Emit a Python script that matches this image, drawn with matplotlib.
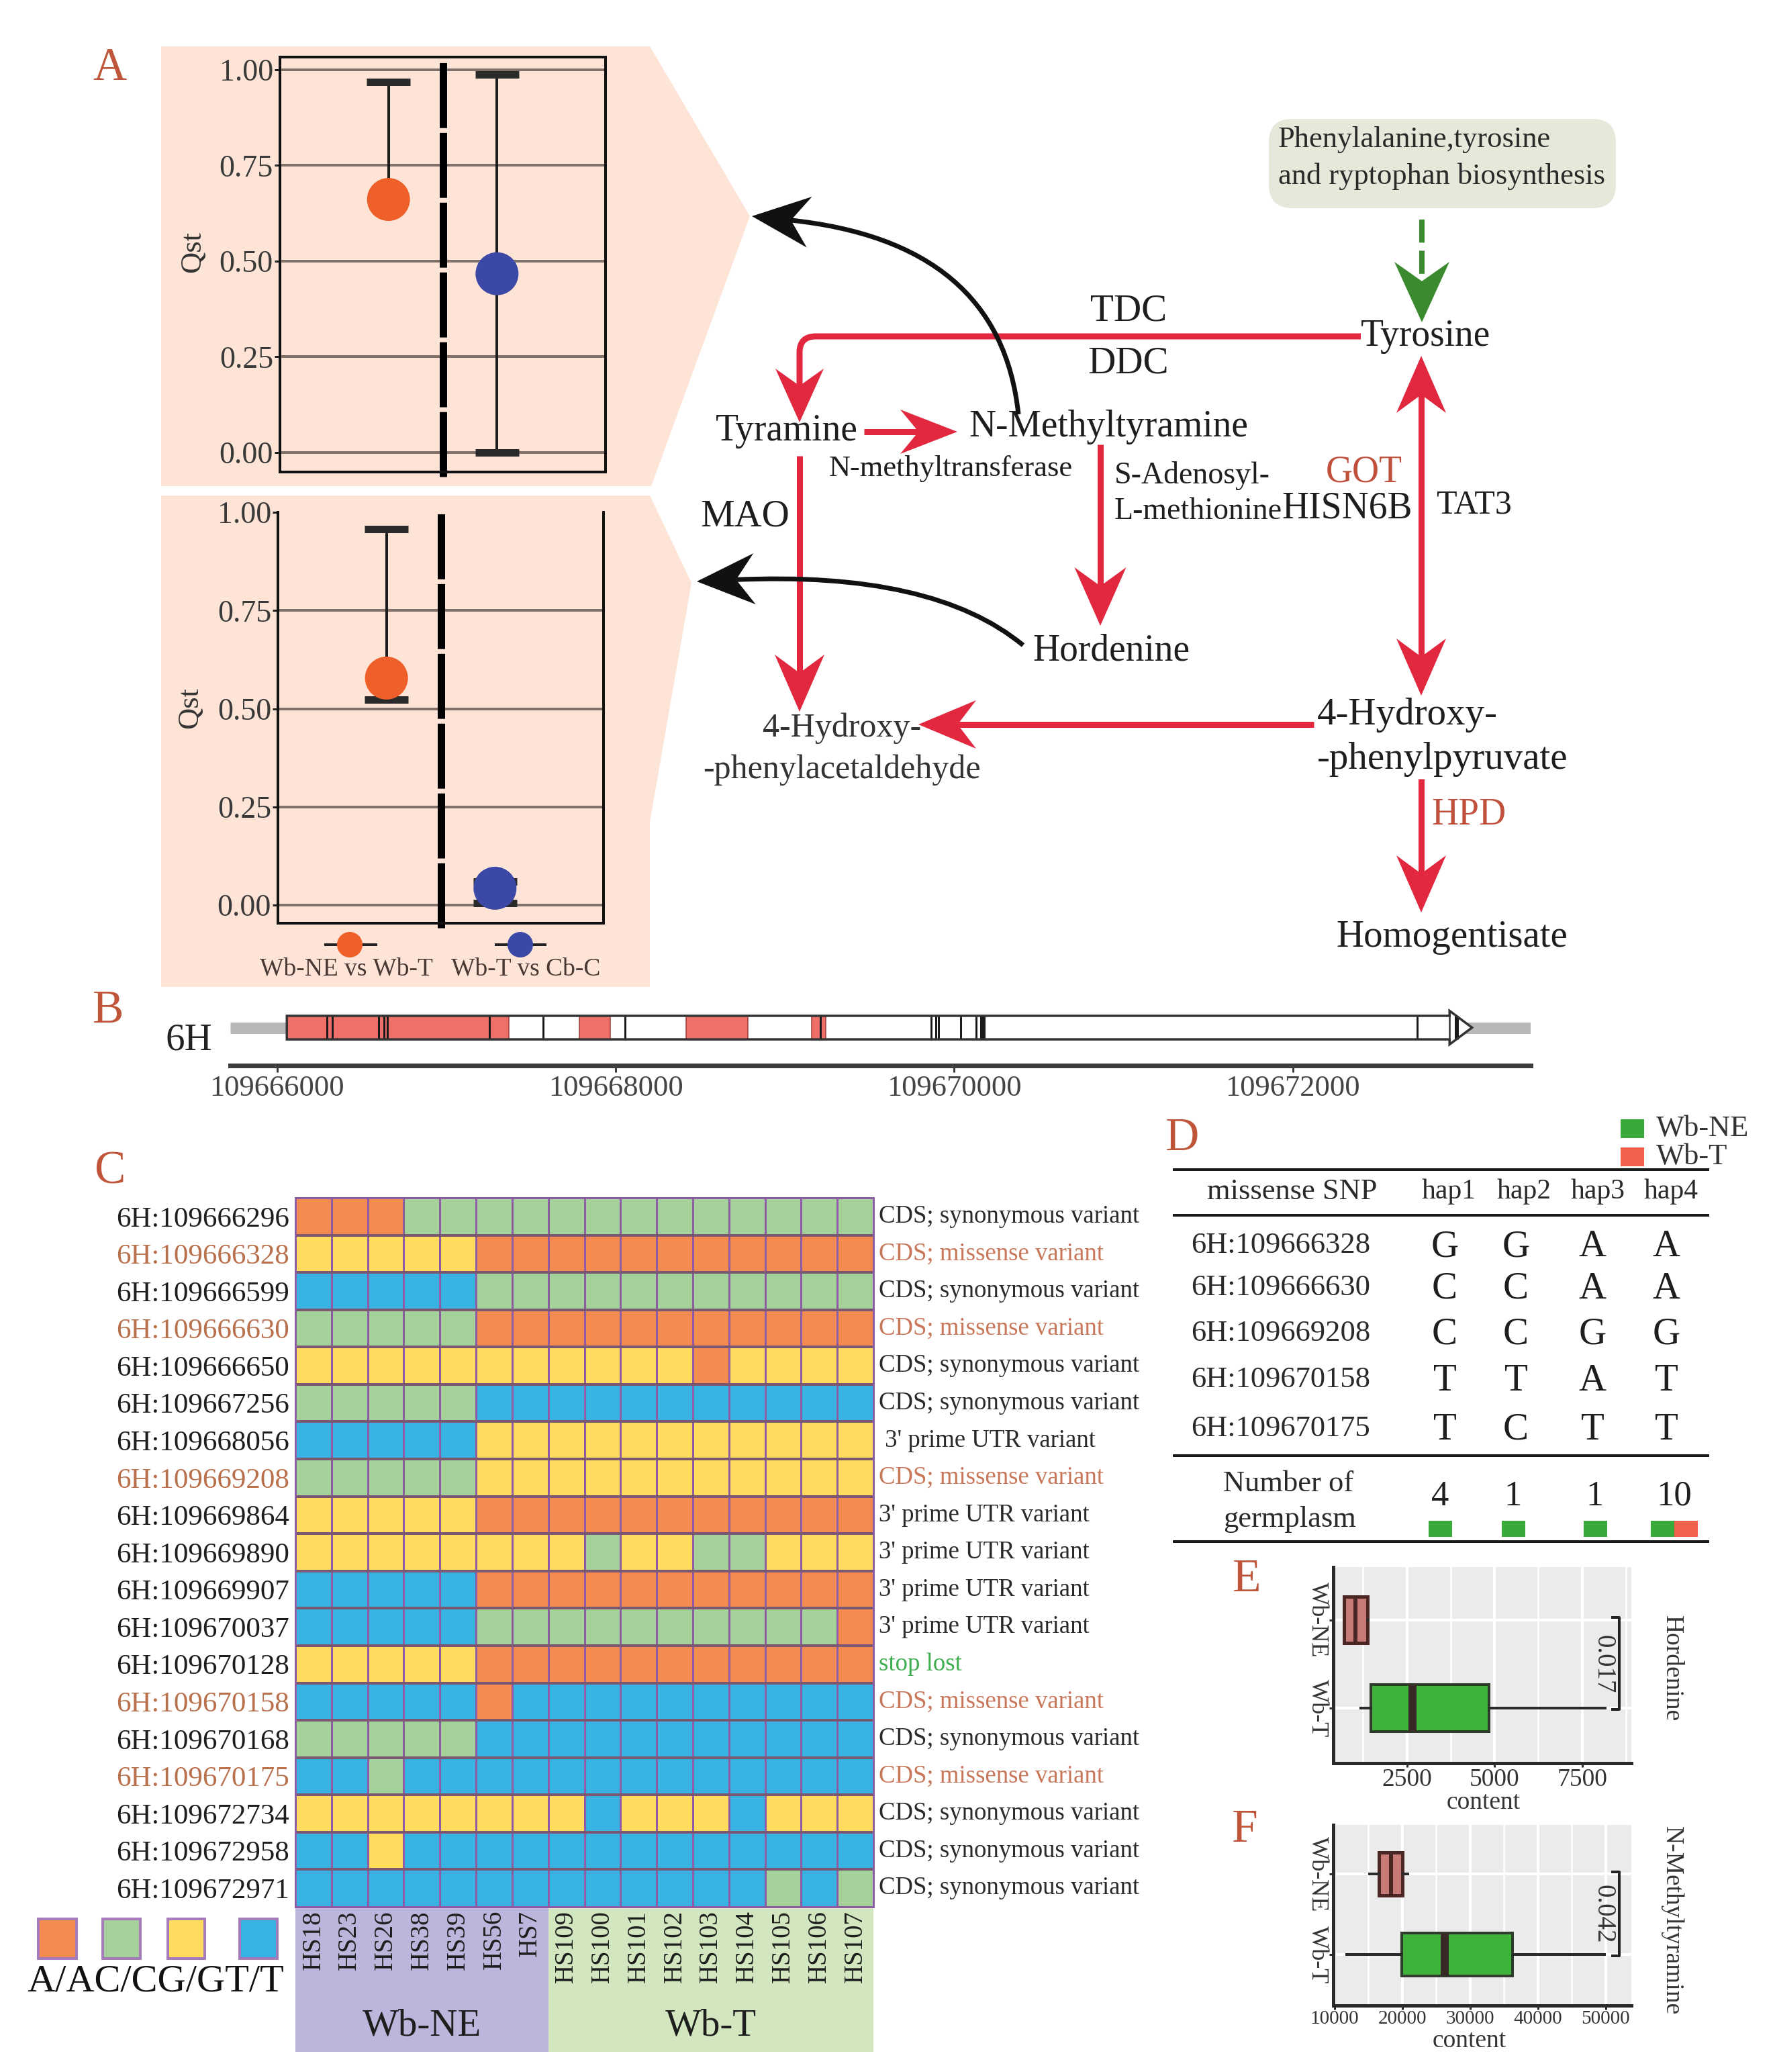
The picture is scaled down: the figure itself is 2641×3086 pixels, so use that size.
import numpy as np
import matplotlib
matplotlib.use('Agg')
import matplotlib.pyplot as plt
from matplotlib.patches import Polygon, Rectangle, FancyBboxPatch, PathPatch
from matplotlib.path import Path
from matplotlib.colors import ListedColormap

plt.rcParams['font.family'] = ['Liberation Serif', 'DejaVu Serif']

W, H = 2641, 3086
DPI = 100


def pt(px):
    return px * 72.0 / DPI

# ------------------------------------------------------------------ data
qst_groups = ['Wb-NE vs Wb-T', 'Wb-T vs Cb-C']
qst_ticks = [0.00, 0.25, 0.50, 0.75, 1.00]
qst_nmt_point = [0.661, 0.467]
qst_nmt_low = [0.661, 0.000]
qst_nmt_high = [0.968, 0.988]
qst_hor_point = [0.578, 0.043]
qst_hor_low = [0.523, 0.005]
qst_hor_high = [0.957, 0.060]

track_start, track_end = 109665724, 109673404
gene_start, gene_end, gene_tip = 109666058, 109672925, 109673058
exons = [(109666058, 109667371), (109667786, 109667967),
         (109668418, 109668780), (109669157, 109669242)]
extra_marks = [109667573]
track_ticks = [109666000, 109668000, 109670000, 109672000]

snp_ids = ['6H:109666296', '6H:109666328', '6H:109666599', '6H:109666630',
           '6H:109666650', '6H:109667256', '6H:109668056', '6H:109669208',
           '6H:109669864', '6H:109669890', '6H:109669907', '6H:109670037',
           '6H:109670128', '6H:109670158', '6H:109670168', '6H:109670175',
           '6H:109672734', '6H:109672958', '6H:109672971']
snp_effects = ['CDS; synonymous variant', 'CDS; missense variant',
               'CDS; synonymous variant', 'CDS; missense variant',
               'CDS; synonymous variant', 'CDS; synonymous variant',
               " 3' prime UTR variant", 'CDS; missense variant',
               "3' prime UTR variant", "3' prime UTR variant",
               "3' prime UTR variant", "3' prime UTR variant",
               'stop lost', 'CDS; missense variant',
               'CDS; synonymous variant', 'CDS; missense variant',
               'CDS; synonymous variant', 'CDS; synonymous variant',
               'CDS; synonymous variant']
samples = ['HS18', 'HS23', 'HS26', 'HS38', 'HS39', 'HS56', 'HS7', 'HS109',
           'HS100', 'HS101', 'HS102', 'HS103', 'HS104', 'HS105', 'HS106', 'HS107']
genotypes = ['AAACCCCCCCCCCCCC',
             'GGGGGAAAAAAAAAAA',
             'TTTTTCCCCCCCCCCC',
             'CCCCCAAAAAAAAAAA',
             'GGGGGGGGGGGAGGGG',
             'CCCCCTTTTTTTTTTT',
             'TTTTTGGGGGGGGGGG',
             'CCCCCGGGGGGGGGGG',
             'GGGGGAAAAAAAAAAA',
             'GGGGGGGGCGGCCGGG',
             'TTTTTAAAAAAAAAAA',
             'TTTTTCCCCCCCCCCA',
             'GGGGGAAAAAAAAAAA',
             'TTTTTATTTTTTTTTT',
             'CCCCCTTTTTTTTTTT',
             'TTCTTTTTTTTTTTTT',
             'GGGGGGGGTGGGTGGG',
             'TTGTTTTTTTTTTTTT',
             'TTTTTTTTTTTTTCTC']
allele_order = ['A', 'C', 'G', 'T']
allele_labels = ['A/A', 'C/C', 'G/G', 'T/T']
allele_colors = ['#f38b50', '#a5d29b', '#ffdc5e', '#38b2e3']
group_names = ['Wb-NE', 'Wb-T']
group_sizes = [7, 9]

hap_snps = ['6H:109666328', '6H:109666630', '6H:109669208', '6H:109670158', '6H:109670175']
hap_names = ['hap1', 'hap2', 'hap3', 'hap4']
hap_alleles = [['G', 'C', 'C', 'T', 'T'],
               ['G', 'C', 'C', 'T', 'C'],
               ['A', 'A', 'G', 'A', 'T'],
               ['A', 'A', 'G', 'T', 'T']]
hap_counts = [4, 1, 1, 10]
hap_groups = [['Wb-NE'], ['Wb-NE'], ['Wb-NE'], ['Wb-NE', 'Wb-T']]

box_groups = ['Wb-NE', 'Wb-T']
hord_whislo = [700, 1187]
hord_q1 = [708, 1474]
hord_med = [1034, 2662]
hord_q3 = [1379, 4845]
hord_whishi = [1390, 8158]
hord_p = '0.017'
nmt_whislo = [15150, 11800]
nmt_q1 = [16530, 19900]
nmt_med = [18320, 26240]
nmt_q3 = [20000, 36240]
nmt_whishi = [20800, 49800]
nmt_p = '0.042'

# ------------------------------------------------------------------ figure
fig = plt.figure(figsize=(W / DPI, H / DPI), dpi=DPI)
fig.patch.set_facecolor('white')
canvas = fig.add_axes([0, 0, 1, 1])
canvas.set_xlim(0, W)
canvas.set_ylim(H, 0)
canvas.axis('off')
canvas.set_zorder(0)


def px_axes(x0, y0, x1, y1):
    ax = fig.add_axes([x0 / W, 1 - y1 / H, (x1 - x0) / W, (y1 - y0) / H])
    ax.set_zorder(2)
    return ax


def T(x, y, s, size, color='#1e1e1e', ha='center', va='center', **kw):
    canvas.text(x, y, s, fontsize=size, color=color, ha=ha, va=va, **kw)


LETTER = '#c0553a'
RED = '#e1283f'
ORANGE = '#ef5f2a'
BLUE = '#3b48a6'
PINK = '#fde4d6'

# ------------------------------------------------------------------ panel A backgrounds
canvas.add_patch(Polygon([(240, 69), (968, 69), (1117, 322), (970, 724), (240, 724)],
                         closed=True, fc=PINK, ec='none', zorder=0))
canvas.add_patch(Polygon([(240, 738), (968, 738), (1030, 868), (968, 1224), (968, 1470), (240, 1470)],
                         closed=True, fc=PINK, ec='none', zorder=0))


def qst_axes(rect, point, low, high, ylim, grid_vals, top_spine):
    ax = px_axes(*rect)
    ax.set_facecolor('none')
    ax.set_xlim(0, 3)
    ax.set_ylim(*ylim)
    for g in grid_vals:
        ax.axhline(g, color='#80716b', lw=pt(4), zorder=1)
    span = ylim[1] - ylim[0]
    ax.plot([1.5, 1.5], [ylim[0] - 0.012 * span, ylim[1]], color='black', lw=pt(11),
            dashes=(8.8, 0.65), solid_capstyle='butt', clip_on=False, zorder=2)
    xs = np.arange(1, len(point) + 1)
    for x, p, lo, hi, c in zip(xs, point, low, high, [ORANGE, BLUE]):
        ax.plot([x, x], [lo, hi], color='#1c1c1c', lw=pt(4), zorder=3)
        ax.plot([x - 0.2, x + 0.2], [hi, hi], color='#2a2a2a', lw=pt(11),
                solid_capstyle='butt', zorder=3)
        if lo < p:
            ax.plot([x - 0.2, x + 0.2], [lo, lo], color='#2a2a2a', lw=pt(11),
                    solid_capstyle='butt', zorder=3)
        ax.scatter([x], [p], s=pt(64) ** 2, color=c, zorder=4, edgecolors='none', clip_on=False)
    ax.set_yticks(qst_ticks)
    ax.set_yticklabels([f'{v:.2f}' for v in qst_ticks], fontsize=33, color='#3a3a3a')
    ax.set_xticks([])
    ax.tick_params(axis='y', length=pt(8), width=pt(3), pad=pt(2), color='#222')
    for s in ax.spines.values():
        s.set_linewidth(pt(4))
        s.set_color('#111111')
    if not top_spine:
        ax.spines['top'].set_visible(False)
    return ax


qst_axes((417, 85, 902, 703), qst_nmt_point, qst_nmt_low, qst_nmt_high,
         (-0.051, 1.033), qst_ticks, True)
qst_axes((414, 763, 899, 1375), qst_hor_point, qst_hor_low, qst_hor_high,
         (-0.046, 1.0), qst_ticks[:-1], False)

T(287, 375, 'Qst', 32, '#333', rotation=90)
T(283, 1054, 'Qst', 32, '#333', rotation=90)
# legend of A
for (lx0, lx1, mx), c, lab, tx in zip([(485, 560, 521), (739, 812, 775)], [ORANGE, BLUE],
                                      qst_groups, [516, 783]):
    canvas.plot([lx0, lx1], [1407, 1407], color='#222', lw=pt(4), zorder=3)
    canvas.scatter([mx], [1407], s=pt(38) ** 2, color=c, zorder=4, edgecolors='none')
    T(tx, 1443, lab, 27, '#4a3a35')

# ------------------------------------------------------------------ pathway
def arrow_head(tip, d, L=85, Wd=74, color=RED, notch=0.32):
    d = np.asarray(d, float)
    d = d / np.hypot(*d)
    n = np.array([-d[1], d[0]])
    tip = np.asarray(tip, float)
    base = tip - d * L
    pn = tip - d * L * (1 - notch)
    canvas.add_patch(Polygon([tip, base + n * Wd / 2, pn, base - n * Wd / 2],
                             closed=True, fc=color, ec='none', zorder=5))
    return pn + d * 3


def straight_arrow(p0, tip, color=RED, lw=9, L=85, Wd=74, double=False, dashes=None):
    p0 = np.asarray(p0, float)
    tip = np.asarray(tip, float)
    d = tip - p0
    end = arrow_head(tip, d, L, Wd, color)
    start = arrow_head(p0, -d, L, Wd, color) if double else p0
    kw = dict(color=color, lw=pt(lw), solid_capstyle='butt', zorder=4)
    if dashes:
        kw['dashes'] = dashes
    canvas.plot([start[0], end[0]], [start[1], end[1]], **kw)


def curved_arrow(p0, c, p2, color='#111111', lw=7, L=86, Wd=76):
    p0, c, p2 = [np.asarray(v, float) for v in (p0, c, p2)]
    pn = arrow_head(p2, p2 - c, L, Wd, color)
    path = Path([p0, c, pn], [Path.MOVETO, Path.CURVE3, Path.CURVE3])
    canvas.add_patch(PathPatch(path, fc='none', ec=color, lw=pt(lw), zorder=4))


canvas.add_patch(FancyBboxPatch((1890, 177), 517, 133,
                                boxstyle='round,pad=0,rounding_size=35',
                                fc='#e5e9da', ec='none', zorder=1))
T(1904, 208, 'Phenylalanine,tyrosine', 32, '#2a2a2a', ha='left')
T(1904, 263, 'and ryptophan biosynthesis', 32, '#2a2a2a', ha='left')
straight_arrow((2118, 327), (2118, 480), color='#3c8a30', lw=8, L=90, Wd=82, dashes=(4.3, 1.5))

# Tyrosine -> Tyramine with rounded corner
pn = arrow_head((1191, 629), (0, 1), 80, 72)
path = Path([(2027, 501), (1215, 501), (1191, 501), (1191, 525), (1191, pn[1])],
            [Path.MOVETO, Path.LINETO, Path.CURVE3, Path.CURVE3, Path.LINETO])
canvas.add_patch(PathPatch(path, fc='none', ec=RED, lw=pt(9), zorder=4))

straight_arrow((1287, 643), (1426, 643), L=85, Wd=66)
straight_arrow((1639, 662), (1639, 932), L=87, Wd=77)
straight_arrow((1191, 679), (1191, 1060), L=85, Wd=74)
straight_arrow((2117, 530), (2117, 1036), double=True, L=85, Wd=74)
straight_arrow((1957, 1079), (1368, 1079), L=86, Wd=72)
straight_arrow((2117, 1160), (2117, 1359), L=85, Wd=74)

curved_arrow((1517, 617), (1490, 360), (1120, 322))
curved_arrow((1524, 961), (1390, 850), (1038, 866))

GOTC = '#c0503c'
T(2124, 501, 'Tyrosine', 40)
T(1681, 463, 'TDC', 41)
T(1681, 542, 'DDC', 41)
T(1172, 642, 'Tyramine', 40)
T(1651, 636, 'N-Methyltyramine', 40)
T(1416, 698, 'N-methyltransferase', 32)
T(1660, 708, 'S-Adenosyl-', 33, ha='left')
T(1660, 762, 'L-methionine', 33, ha='left')
T(2007, 758, 'HISN6B', 40)
T(2032, 704, 'GOT', 40, GOTC)
T(2196, 752, 'TAT3', 36)
T(1110, 770, 'MAO', 41)
T(1655, 969, 'Hordenine', 40)
T(1254, 1085, '4-Hydroxy-', 36, '#333')
T(1254, 1147, '-phenylacetaldehyde', 36, '#333')
T(1962, 1065, '4-Hydroxy-', 41, ha='left')
T(1962, 1131, '-phenylpyruvate', 41, ha='left')
T(2188, 1214, 'HPD', 40, GOTC)
T(2163, 1396, 'Homogentisate', 41)

# ------------------------------------------------------------------ panel B gene track
axb = px_axes(343, 1480, 2280, 1587)
axb.set_facecolor('none')
axb.set_xlim(track_start, track_end)
axb.set_ylim(0, 1)
yb, yt, ym = 0.364, 0.692, 0.528
axb.plot([track_start, track_end], [ym, ym], color='#b8b8b8', lw=pt(17),
         solid_capstyle='butt', zorder=1)
gene_poly = [(gene_start, yb), (gene_end, yb), (gene_end, yb - 0.07), (gene_tip, ym),
             (gene_end, yt + 0.07), (gene_end, yt), (gene_start, yt)]
axb.add_patch(Polygon(gene_poly, closed=True, fc='white', ec='none', zorder=2))
for s, e in exons:
    axb.add_patch(Rectangle((s, yb), e - s, yt - yb, fc='#ef6f69', ec='#9a3a36',
                            lw=pt(1.5), zorder=3))
snp_pos = [int(s.split(':')[1]) for s in snp_ids]
axb.vlines(snp_pos + extra_marks, yb, yt, color='#1a1a1a', lw=pt(3), zorder=4)
axb.add_patch(Polygon(gene_poly, closed=True, fc='none', ec='#333333', lw=pt(3.5), zorder=5))
axb.plot([gene_end, gene_end], [yb, yt], color='#333333', lw=pt(2.5), zorder=5)
for k in ['top', 'left', 'right']:
    axb.spines[k].set_visible(False)
axb.spines['bottom'].set_linewidth(pt(7))
axb.spines['bottom'].set_color('#3c3c3c')
axb.set_yticks([])
axb.set_xticks(track_ticks)
axb.set_xticklabels([str(t) for t in track_ticks], fontsize=32, color='#444')
axb.tick_params(axis='x', length=pt(10), width=pt(3), pad=pt(4), color='#3c3c3c')
T(281, 1549, '6H', 41, '#222')

# ------------------------------------------------------------------ panel C heatmap
hx0, hy0, hx1, hy1 = 440, 1784, 1301, 2840
axc = px_axes(hx0, hy0, hx1, hy1)
codes = np.array([[allele_order.index(ch) for ch in row] for row in genotypes])
nrow, ncol = codes.shape
axc.pcolormesh(np.arange(ncol + 1), np.arange(nrow + 1), codes,
               cmap=ListedColormap(allele_colors), vmin=-0.5, vmax=3.5,
               edgecolors='#8e5ca4', linewidth=pt(3))
axc.hlines(np.arange(1, nrow), 0, ncol, color='#7a5872', lw=pt(4))
axc.set_xlim(0, ncol)
axc.set_ylim(nrow, 0)
MISS = '#c8775a'
axc.set_yticks(np.arange(nrow) + 0.5)
axc.set_yticklabels(snp_ids, fontsize=31)
for lab, eff in zip(axc.get_yticklabels(), snp_effects):
    lab.set_color('#b9704c' if 'missense' in eff else '#1e1e1e')
axc.set_xticks(np.arange(ncol) + 0.5)
axc.set_xticklabels(samples, rotation=90, fontsize=28, va='top', color='#1e1e1e')
axc.tick_params(axis='y', length=0, pad=pt(9))
axc.tick_params(axis='x', length=0, pad=pt(5))
for s in axc.spines.values():
    s.set_color('#8e5ca4')
    s.set_linewidth(pt(3))
cw = (hx1 - hx0) / ncol
for i, eff in enumerate(snp_effects):
    col = MISS if 'missense' in eff else ('#3fae4f' if 'stop' in eff else '#2a2a2a')
    axc.text(ncol + 8 / cw, i + 0.5, eff, fontsize=26.5, color=col, ha='left',
             va='center', clip_on=False)

gx = hx0
for gname, gsize, gcol in zip(group_names, group_sizes, ['#bcb6dc', '#d2e7bf']):
    canvas.add_patch(Rectangle((gx, hy1), gsize * cw, 3056 - hy1, fc=gcol, ec='none', zorder=1))
    T(gx + gsize * cw / 2, 3017, gname, 41, '#1e1e1e')
    gx += gsize * cw

for (sx0, sx1), c in zip([(57, 114), (153, 209), (250, 305), (357, 413)], allele_colors):
    canvas.add_patch(Rectangle((sx0, 2858), sx1 - sx0, 59, fc=c, ec='#a67bbb',
                               lw=pt(4), zorder=2))
T(232, 2952, ''.join(allele_labels), 42, '#111')

# ------------------------------------------------------------------ panel D table
for y in [1742, 1810, 2168, 2296]:
    canvas.plot([1749, 2544], [y, y], color='#1a1a1a', lw=pt(4), zorder=3)
T(1925, 1775, 'missense SNP', 32, '#2a2a2a')
hap_x = [2158, 2270, 2380, 2489]
allele_x = [2152, 2258, 2372, 2482]
for hx, hn in zip(hap_x, hap_names):
    T(hx, 1775, hn, 30, '#2a2a2a')
row_y = [1855, 1918, 1986, 2055, 2128]
for r, (ry, sn) in enumerate(zip(row_y, hap_snps)):
    T(1774, ry, sn, 32, '#2a2a2a', ha='left')
    for h in range(len(hap_names)):
        T(allele_x[h], ry + 2, hap_alleles[h][r], 41, '#1e1e1e')
T(1822, 2210, 'Number of', 32, '#2a2a2a', ha='left')
T(1822, 2263, 'germplasm', 32, '#2a2a2a', ha='left')
num_x = [2145, 2254, 2376, 2494]
GRN, RDD = '#3aa83a', '#f0604a'
for nx, cnt, grp in zip(num_x, hap_counts, hap_groups):
    T(nx, 2229, str(cnt), 38, '#1e1e1e')
    sq = 35
    x0 = nx - sq * len(grp) / 2
    for g in grp:
        canvas.add_patch(Rectangle((x0, 2265), sq, 24, fc=GRN if g == 'Wb-NE' else RDD,
                                   ec='none', zorder=3))
        x0 += sq
canvas.add_patch(Rectangle((2414, 1667), 35, 28, fc=GRN, ec='none'))
canvas.add_patch(Rectangle((2414, 1709), 35, 28, fc=RDD, ec='none'))
T(2467, 1681, 'Wb-NE', 32, '#333', ha='left')
T(2467, 1723, 'Wb-T', 32, '#333', ha='left')

# ------------------------------------------------------------------ panels E / F boxplots
def box_axes(rect, xlim, whislo, q1, med, q3, whishi, major, minor, tfs, ylim,
             pval, brx, brlen, ptx):
    ax = px_axes(*rect)
    ax.set_facecolor('#ebebeb')
    ax.set_axisbelow(True)
    stats = [dict(whislo=whislo[i], q1=q1[i], med=med[i], q3=q3[i], whishi=whishi[i],
                  fliers=[], label=box_groups[i]) for i in range(len(box_groups))]
    kw = dict(positions=[2, 1], widths=0.53, patch_artist=True, showfliers=False,
              showcaps=False, manage_ticks=False)
    try:
        res = ax.bxp(stats, orientation='horizontal', **kw)
    except TypeError:
        res = ax.bxp(stats, vert=False, **kw)
    faces = ['#c87a76', '#3fb23b']
    edges = ['#4a2624', '#2e3a2a']
    for i in range(2):
        b = res['boxes'][i]
        b.set_facecolor(faces[i])
        b.set_edgecolor(edges[i])
        b.set_linewidth(pt(5) if i == 0 else pt(4))
        res['medians'][i].set_color('#4a2624' if i == 0 else '#3a2a26')
        res['medians'][i].set_linewidth(pt(6) if i == 0 else pt(12))
        for wsk in res['whiskers'][2 * i:2 * i + 2]:
            wsk.set_color('#2b2b2b')
            wsk.set_linewidth(pt(4))
    ax.set_xlim(*xlim)
    ax.set_ylim(*ylim)
    ax.set_xticks(major)
    ax.set_xticks(minor, minor=True)
    ax.set_xticklabels([str(v) for v in major], fontsize=tfs, color='#333')
    ax.grid(True, which='major', axis='both', color='white', lw=pt(4))
    ax.grid(True, which='minor', axis='x', color='white', lw=pt(2.5))
    ax.set_yticks([2, 1])
    ax.set_yticklabels(box_groups, rotation=-90, fontsize=26, va='center', ha='center',
                       color='#333')
    ax.tick_params(axis='y', length=pt(6), width=pt(3), pad=pt(18), color='#2a2a2a')
    ax.tick_params(axis='x', which='major', length=pt(6), width=pt(3), pad=pt(1), color='#2a2a2a')
    ax.tick_params(axis='x', which='minor', length=0)
    for k in ['top', 'right']:
        ax.spines[k].set_visible(False)
    for k in ['left', 'bottom']:
        ax.spines[k].set_linewidth(pt(5))
        ax.spines[k].set_color('#2a2a2a')
    ax.plot([brx - brlen, brx, brx, brx - brlen], [2.03, 2.03, 0.985, 0.985],
            color='#222', lw=pt(4), zorder=5)
    ax.text(ptx, 1.5, pval, rotation=-90, fontsize=28, ha='center', va='center', color='#333')
    return ax


box_axes((1986, 2334, 2430, 2626), (402, 8906), hord_whislo, hord_q1, hord_med, hord_q3,
         hord_whishi, [2500, 5000, 7500], [1250, 3750, 6250, 8750], 27, (0.374, 2.60),
         hord_p, 8560, 190, 8100)
box_axes((1986, 2718, 2430, 2987), (9800, 53800), nmt_whislo, nmt_q1, nmt_med, nmt_q3,
         nmt_whishi, [10000, 20000, 30000, 40000, 50000], [15000, 25000, 35000, 45000],
         21, (0.367, 2.61), nmt_p, 51980, 990, 49600)
T(2210, 2685, 'content', 27, '#333')
T(2189, 3040, 'content', 27, '#333')
T(2490, 2485, 'Hordenine', 27, '#333', rotation=-90)
T(2490, 2861, 'N-Methyltyramine', 27, '#333', rotation=-90)

# ------------------------------------------------------------------ panel letters
for (lx, ly), lt in zip([(163, 102), (161, 1506), (163, 1746), (1761, 1696), (1857, 2353),
                         (1854, 2726)], 'ABCDEF'):
    T(lx, ly, lt, 50, LETTER)

fig.savefig('out.png', dpi=DPI, facecolor='white')
